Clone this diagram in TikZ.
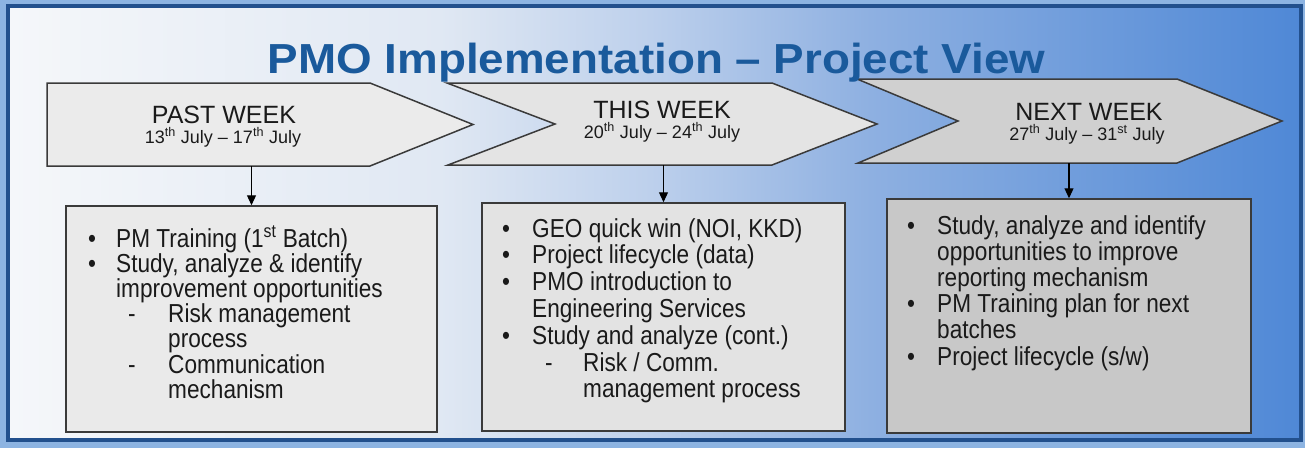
\documentclass[tikz,border=0pt]{standalone}
\usepackage{graphicx}
\usepackage{fontspec}
\setmainfont{Liberation Sans}
\newfontfamily\boxfont[FakeStretch=0.87]{Liberation Sans}
\usetikzlibrary{arrows.meta}
\definecolor{outerblue}{HTML}{8DB4E2}
\definecolor{framec}{HTML}{22508D}
\definecolor{g0}{HTML}{F5F7FA}
\definecolor{g1}{HTML}{E0E8F3}
\definecolor{g2}{HTML}{BDD0EC}
\definecolor{g3}{HTML}{8EB0E1}
\definecolor{g4}{HTML}{4F88D6}
\definecolor{titleblue}{HTML}{1A5A9C}
\definecolor{edge}{HTML}{3A3A3A}
\definecolor{chevA}{HTML}{EBEBEB}
\definecolor{chevB}{HTML}{E4E4E4}
\definecolor{chevC}{HTML}{D0D0D0}
\definecolor{boxA}{HTML}{EAEAEA}
\definecolor{boxB}{HTML}{E3E3E3}
\definecolor{boxC}{HTML}{C8C8C8}
\definecolor{ink}{HTML}{1A1A1A}
\newcommand{\mybul}[1]{\makebox[#1][l]{\textbullet}}
\newcommand{\mydash}[2]{\hspace*{#1}\makebox[#2][l]{-}}
\begin{document}
\begin{tikzpicture}[x=1pt,y=-1pt,
  chev/.style={draw=edge, line width=1.5pt, line join=miter},
  weekbox/.style={draw=edge, line width=1.5pt, rectangle, inner sep=0pt},
  wk/.style={anchor=base, inner sep=0pt, text=ink, font=\fontsize{25}{25}\selectfont},
  dt/.style={anchor=base, inner sep=0pt, text=ink, font=\fontsize{18}{18}\selectfont},
  items/.style={anchor=base west, inner sep=0pt, text=ink},
  conn/.style={draw=black, line width=1.2pt, -{Triangle[length=10pt,width=9pt]}},
]
\useasboundingbox (0,0) rectangle (1305,448);
\fill[outerblue] (0,0) rectangle (1305,448);
\fill[left color=g0, right color=g1] (8,6) rectangle (440.5,440);
\fill[left color=g1, right color=g2] (440,6) rectangle (650.5,440);
\fill[left color=g2, right color=g3] (650,6) rectangle (870.5,440);
\fill[left color=g3, right color=g4] (870,6) rectangle (1301,440);
\draw[framec, line width=3.5pt] (8,6) rectangle (1301,440);

% chevrons
\draw[chev, fill=chevA] (47,83) -- (370,83) -- (473,124.5) -- (370,166) -- (47,166) -- cycle;
\draw[chev, fill=chevB] (447,83) -- (772,83) -- (877,124) -- (772,165) -- (448,165) -- (555,124) -- cycle;
\draw[chev, fill=chevC] (857,79) -- (1177,79) -- (1282,121) -- (1177,163) -- (858,163) -- (958,121) -- cycle;

\node[wk] (l1) at (224,123) {PAST WEEK};
\node[dt] (d1) at (223,143) {13\textsuperscript{th} July – 17\textsuperscript{th} July};
\node[wk] (l2) at (662,118) {THIS WEEK};
\node[dt] (d2) at (662,138) {20\textsuperscript{th} July – 24\textsuperscript{th} July};
\node[wk] (l3) at (1089,120) {NEXT WEEK};
\node[dt] (d3) at (1087,140) {27\textsuperscript{th} July – 31\textsuperscript{st} July};

% title
\node[anchor=base, inner sep=0pt, text=titleblue, font=\bfseries\fontsize{42}{42}\selectfont] (title) at (656.5,73) {\scalebox{1.09}[1]{PMO Implementation – Project View}};

% boxes
\node[weekbox, fill=boxA, minimum width=371pt, minimum height=226pt] (b1) at (251.5,319) {};
\node[weekbox, fill=boxB, minimum width=363pt, minimum height=228pt] (b2) at (663.5,317) {};
\node[weekbox, fill=boxC, minimum width=364pt, minimum height=234pt] (b3) at (1069,316) {};

% connectors
\coordinate (c1) at (251.5,166);
\coordinate (c2) at (663.5,165);
\coordinate (c3) at (1069,163);
\draw[conn] (c1) -- (b1.north);
\draw[conn] (c2) -- (b2.north);
\draw[conn] (c3) -- (b3.north);

% box texts
\node[items] (t1) at (88,247) {\parbox[t]{345pt}{\boxfont\fontsize{26}{25.2}\selectfont
\mybul{28pt}PM Training (1\textsuperscript{st} Batch)\\
\mybul{28pt}Study, analyze \& identify\\
\hspace*{28pt}improvement opportunities\\
\mydash{40pt}{40pt}Risk management\\
\hspace*{80pt}process\\
\mydash{40pt}{40pt}Communication\\
\hspace*{80pt}mechanism}};

\node[items] (t2) at (502,237) {\parbox[t]{340pt}{\boxfont\fontsize{26}{26.8}\selectfont
\mybul{30pt}GEO quick win (NOI, KKD)\\
\mybul{30pt}Project lifecycle (data)\\
\mybul{30pt}PMO introduction to\\
\hspace*{30pt}Engineering Services\\
\mybul{30pt}Study and analyze (cont.)\\
\mydash{43pt}{38pt}Risk / Comm.\\
\hspace*{81pt}management process}};

\node[items] (t3) at (907,234) {\parbox[t]{340pt}{\boxfont\fontsize{26}{26.2}\selectfont
\mybul{30pt}Study, analyze and identify\\
\hspace*{30pt}opportunities to improve\\
\hspace*{30pt}reporting mechanism\\
\mybul{30pt}PM Training plan for next\\
\hspace*{30pt}batches\\
\mybul{30pt}Project lifecycle (s/w)}};
\end{tikzpicture}
\end{document}
